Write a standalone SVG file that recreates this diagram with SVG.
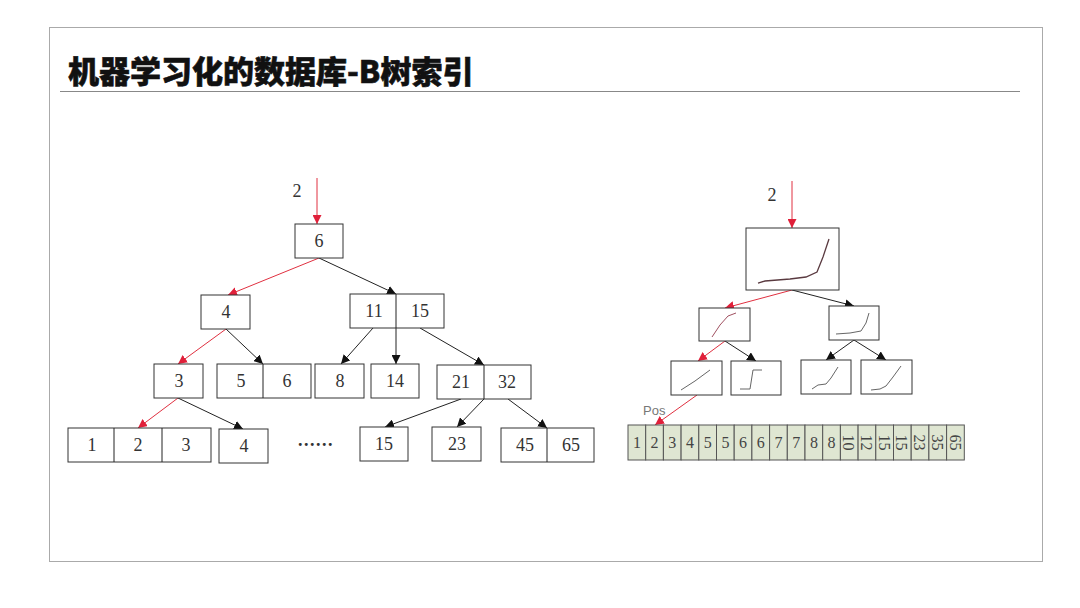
<svg xmlns="http://www.w3.org/2000/svg" width="1080" height="608" viewBox="0 0 1080 608">
<defs>
<style>
.box{fill:#fff;stroke:#333;stroke-width:1}
.t{font-family:"Liberation Serif","DejaVu Serif",serif;font-size:18px;fill:#333;text-anchor:middle}
.e{stroke:#222;stroke-width:1;fill:none}
.r{stroke:#e03040;stroke-width:1;fill:none}
.cell{fill:#dfe6d2;stroke:#555;stroke-width:1}
.ct{font-family:"Liberation Serif","DejaVu Serif",serif;font-size:16px;fill:#444;text-anchor:middle}
.cv{fill:none;stroke:#666;stroke-width:1}
</style>
<marker id="ab" viewBox="0 0 10 10" refX="10" refY="5" markerWidth="9" markerHeight="9" markerUnits="userSpaceOnUse" orient="auto"><path d="M0,0 L10,5 L0,10 z" fill="#111"/></marker>
<marker id="ar" viewBox="0 0 10 10" refX="10" refY="5" markerWidth="9" markerHeight="9" markerUnits="userSpaceOnUse" orient="auto"><path d="M0,0 L10,5 L0,10 z" fill="#e0203a"/></marker>
</defs>
<rect x="0" y="0" width="1080" height="608" fill="#fff"/>
<rect x="49.5" y="27.5" width="993" height="534" fill="#fff" stroke="#aaa"/>
<text x="68" y="83" font-family="'Noto Sans CJK SC',sans-serif" font-weight="900" font-size="31" fill="#111" stroke="#111" stroke-width="0.6">机器学习化的数据库-B树索引</text>
<line x1="60" y1="91.5" x2="1020" y2="91.5" stroke="#888"/>

<g id="connectors">
<line class="r" x1="317" y1="178" x2="317" y2="224" marker-end="url(#ar)"/>
<line class="r" x1="319" y1="258" x2="228" y2="295" marker-end="url(#ar)"/>
<line class="e" x1="319" y1="258" x2="396" y2="294" marker-end="url(#ab)"/>
<line class="r" x1="226" y1="329" x2="178" y2="364" marker-end="url(#ar)"/>
<line class="e" x1="226" y1="329" x2="263" y2="364" marker-end="url(#ab)"/>
<line class="e" x1="373" y1="328" x2="341" y2="364" marker-end="url(#ab)"/>
<line class="e" x1="396" y1="294" x2="396" y2="364" marker-end="url(#ab)"/>
<line class="e" x1="420" y1="328" x2="484" y2="365" marker-end="url(#ab)"/>
<line class="r" x1="178" y1="398" x2="138" y2="428" marker-end="url(#ar)"/>
<line class="e" x1="178" y1="398" x2="243" y2="429" marker-end="url(#ab)"/>
<line class="e" x1="461" y1="399" x2="385" y2="427" marker-end="url(#ab)"/>
<line class="e" x1="484" y1="399" x2="457" y2="427" marker-end="url(#ab)"/>
<line class="e" x1="508" y1="399" x2="547" y2="428" marker-end="url(#ab)"/>

<line class="r" x1="792" y1="181" x2="792" y2="228" marker-end="url(#ar)"/>
<line class="r" x1="792" y1="290" x2="725" y2="308" marker-end="url(#ar)"/>
<line class="e" x1="792" y1="290" x2="854" y2="306" marker-end="url(#ab)"/>
<line class="r" x1="725" y1="341" x2="698" y2="361" marker-end="url(#ar)"/>
<line class="e" x1="725" y1="341" x2="756" y2="361" marker-end="url(#ab)"/>
<line class="e" x1="854" y1="340" x2="826" y2="360" marker-end="url(#ab)"/>
<line class="e" x1="854" y1="340" x2="886" y2="360" marker-end="url(#ab)"/>
<line class="r" x1="697" y1="395" x2="655" y2="425" marker-end="url(#ar)"/>
</g>

<text class="t" x="297" y="197" font-size="15">2</text>
<text class="t" x="772" y="201" font-size="15">2</text>

<g id="n6"><rect class="box" x="295" y="224" width="48" height="34"/><text class="t" x="319" y="247">6</text></g>
<g id="n4"><rect class="box" x="201" y="295" width="49" height="34"/><text class="t" x="226" y="318">4</text></g>
<g id="n11_15"><rect class="box" x="350" y="294" width="94" height="34"/><line class="e" x1="396" y1="294" x2="396" y2="328"/><text class="t" x="374" y="317">11</text><text class="t" x="420" y="317">15</text></g>
<g id="n3"><rect class="box" x="154" y="364" width="49" height="34"/><text class="t" x="179" y="387">3</text></g>
<g id="n5_6"><rect class="box" x="217" y="364" width="94" height="34"/><line class="e" x1="263" y1="364" x2="263" y2="398"/><text class="t" x="241" y="387">5</text><text class="t" x="287" y="387">6</text></g>
<g id="n8"><rect class="box" x="315" y="364" width="49" height="34"/><text class="t" x="340" y="387">8</text></g>
<g id="n14"><rect class="box" x="371" y="364" width="48" height="34"/><text class="t" x="395" y="387">14</text></g>
<g id="n21_32"><rect class="box" x="437" y="365" width="94" height="34"/><line class="e" x1="484" y1="365" x2="484" y2="399"/><text class="t" x="461" y="388">21</text><text class="t" x="507" y="388">32</text></g>
<g id="n1_2_3"><rect class="box" x="68" y="428" width="143" height="34"/><line class="e" x1="114" y1="428" x2="114" y2="462"/><line class="e" x1="162" y1="428" x2="162" y2="462"/><text class="t" x="92" y="451">1</text><text class="t" x="138" y="451">2</text><text class="t" x="186" y="451">3</text></g>
<g id="n4b"><rect class="box" x="219" y="429" width="49" height="34"/><text class="t" x="244" y="452">4</text></g>
<g id="dots"><text class="t" x="316" y="446" font-size="17" font-weight="bold" letter-spacing="1.5">......</text></g>
<g id="n15"><rect class="box" x="360" y="427" width="48" height="34"/><text class="t" x="384" y="450">15</text></g>
<g id="n23"><rect class="box" x="432" y="427" width="49" height="34"/><text class="t" x="457" y="450">23</text></g>
<g id="n45_65"><rect class="box" x="501" y="428" width="93" height="34"/><line class="e" x1="547" y1="428" x2="547" y2="462"/><text class="t" x="525" y="451">45</text><text class="t" x="571" y="451">65</text></g>

<g id="m_root"><rect class="box" x="746" y="228" width="93" height="62"/><path d="M758,283 L765,281 L790,279 L806,277 L817,272 L823,257 L829,239" fill="none" stroke="#5a3a40" stroke-width="1.3"/></g>
<g id="m_l"><rect class="box" x="699" y="308" width="51" height="33"/><path d="M712,337 L720,325 L728,316 L736,313" fill="none" stroke="#a05060" stroke-width="1"/></g>
<g id="m_r"><rect class="box" x="829" y="306" width="50" height="34"/><path d="M836,334 L850,333 L861,331 L866,323 L869,313" class="cv"/></g>
<g id="m_ll"><rect class="box" x="671" y="361" width="51" height="34"/><path d="M681,390 L695,381 L710,370" class="cv"/></g>
<g id="m_lr"><rect class="box" x="731" y="361" width="50" height="34"/><path d="M740,389 L750,389 L753,370 L762,370" class="cv"/></g>
<g id="m_rl"><rect class="box" x="801" y="360" width="50" height="34"/><path d="M812,389 L818,385 L826,384 L831,378 L838,367" class="cv"/></g>
<g id="m_rr"><rect class="box" x="861" y="360" width="51" height="34"/><path d="M871,390 L880,389 L886,386 L893,377 L901,366" class="cv"/></g>

<text x="643" y="415" font-family="'Liberation Sans',sans-serif" font-size="13" fill="#777">Pos</text>

<g id="array">
<rect class="cell" x="628" y="425" width="17.7" height="35"/><text class="ct" x="636.9" y="448">1</text>
<rect class="cell" x="645.7" y="425" width="17.7" height="35"/><text class="ct" x="654.6" y="448">2</text>
<rect class="cell" x="663.4" y="425" width="17.7" height="35"/><text class="ct" x="672.3" y="448">3</text>
<rect class="cell" x="681.1" y="425" width="17.7" height="35"/><text class="ct" x="690" y="448">4</text>
<rect class="cell" x="698.8" y="425" width="17.7" height="35"/><text class="ct" x="707.7" y="448">5</text>
<rect class="cell" x="716.5" y="425" width="17.7" height="35"/><text class="ct" x="725.4" y="448">5</text>
<rect class="cell" x="734.2" y="425" width="17.7" height="35"/><text class="ct" x="743.1" y="448">6</text>
<rect class="cell" x="751.9" y="425" width="17.7" height="35"/><text class="ct" x="760.8" y="448">6</text>
<rect class="cell" x="769.6" y="425" width="17.7" height="35"/><text class="ct" x="778.5" y="448">7</text>
<rect class="cell" x="787.3" y="425" width="17.7" height="35"/><text class="ct" x="796.2" y="448">7</text>
<rect class="cell" x="805" y="425" width="17.7" height="35"/><text class="ct" x="813.9" y="448">8</text>
<rect class="cell" x="822.7" y="425" width="17.7" height="35"/><text class="ct" x="831.6" y="448">8</text>
<rect class="cell" x="840.4" y="425" width="17.7" height="35"/><text class="ct" transform="translate(849.3,442.5) rotate(90)" x="0" y="6">10</text>
<rect class="cell" x="858.1" y="425" width="17.7" height="35"/><text class="ct" transform="translate(867,442.5) rotate(90)" x="0" y="6">12</text>
<rect class="cell" x="875.8" y="425" width="17.7" height="35"/><text class="ct" transform="translate(884.7,442.5) rotate(90)" x="0" y="6">15</text>
<rect class="cell" x="893.5" y="425" width="17.7" height="35"/><text class="ct" transform="translate(902.4,442.5) rotate(90)" x="0" y="6">15</text>
<rect class="cell" x="911.2" y="425" width="17.7" height="35"/><text class="ct" transform="translate(920.1,442.5) rotate(90)" x="0" y="6">23</text>
<rect class="cell" x="928.9" y="425" width="17.7" height="35"/><text class="ct" transform="translate(937.8,442.5) rotate(90)" x="0" y="6">35</text>
<rect class="cell" x="946.6" y="425" width="17.7" height="35"/><text class="ct" transform="translate(955.5,442.5) rotate(90)" x="0" y="6">65</text>
</g>
</svg>
